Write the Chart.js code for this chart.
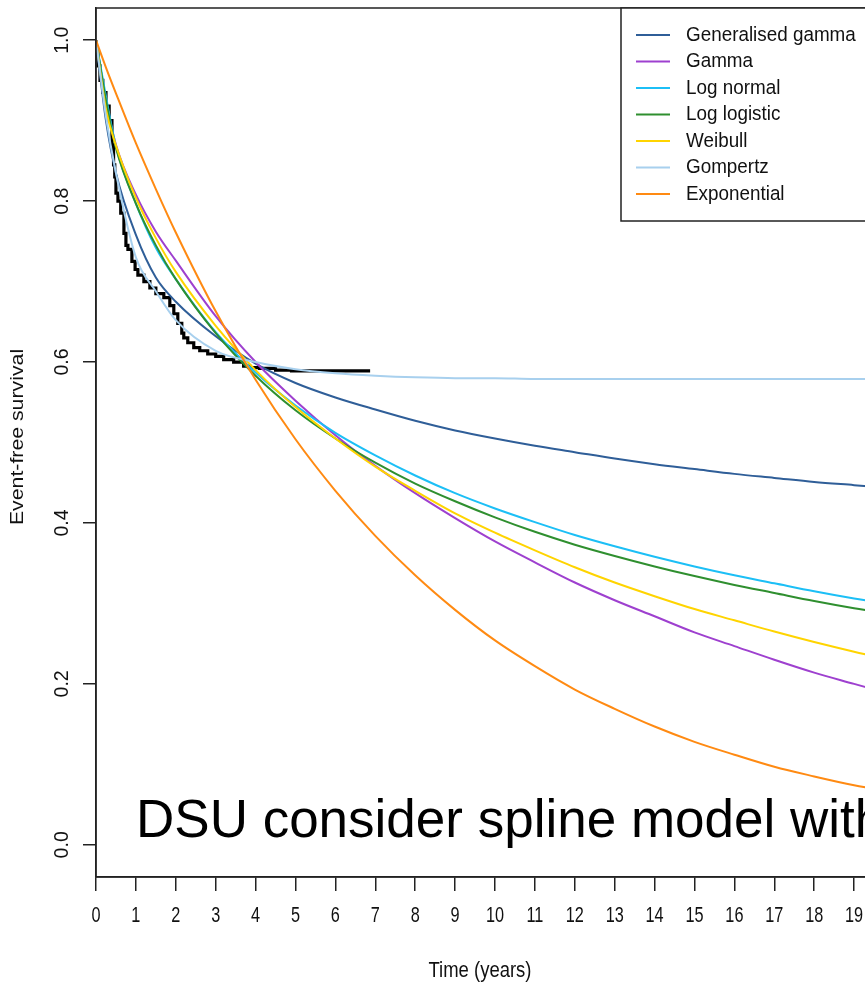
<!DOCTYPE html>
<html>
<head>
<meta charset="utf-8">
<script src="https://cdn.jsdelivr.net/npm/chart.js@4.4.1/dist/chart.umd.min.js"></script>
<style>
  html, body { margin: 0; padding: 0; background: #fff; overflow: hidden; }
  #wrap { width: 920px; height: 986px; }
</style>
</head>
<body>
<div id="wrap"><canvas id="survChart" width="920" height="986"></canvas></div>
<script>
// time grid (years) shared by the fitted curves
const years = [0, 0.25, 0.5, 1, 1.5, 2, 3, 4, 5, 6, 7, 8, 9, 10, 11, 12, 13, 14, 15, 16, 17, 18, 19, 20];

// fitted survival curves
const genGamma    = [1.0, 0.90, 0.835, 0.758, 0.705, 0.675, 0.632, 0.598, 0.574, 0.556, 0.541, 0.527, 0.515, 0.505, 0.496, 0.488, 0.480, 0.473, 0.467, 0.461, 0.456, 0.451, 0.447, 0.443];
const gammaFit    = [1.0, 0.925, 0.87, 0.808, 0.762, 0.726, 0.657, 0.600, 0.552, 0.509, 0.471, 0.437, 0.406, 0.377, 0.351, 0.326, 0.304, 0.284, 0.264, 0.247, 0.230, 0.214, 0.200, 0.186];
const logNormal   = [1.0, 0.93, 0.868, 0.797, 0.742, 0.703, 0.637, 0.587, 0.546, 0.512, 0.484, 0.459, 0.437, 0.418, 0.401, 0.385, 0.371, 0.358, 0.346, 0.335, 0.325, 0.315, 0.306, 0.298];
const logLogistic = [1.0, 0.925, 0.866, 0.797, 0.745, 0.703, 0.636, 0.583, 0.540, 0.505, 0.475, 0.449, 0.427, 0.407, 0.389, 0.373, 0.359, 0.346, 0.334, 0.323, 0.313, 0.303, 0.294, 0.286];
const weibull     = [1.0, 0.914, 0.869, 0.804, 0.754, 0.712, 0.645, 0.590, 0.544, 0.505, 0.470, 0.440, 0.412, 0.388, 0.366, 0.345, 0.326, 0.309, 0.293, 0.279, 0.265, 0.252, 0.240, 0.229];
const gompertz    = [1.0, 0.905, 0.835, 0.730, 0.688, 0.652, 0.614, 0.600, 0.591, 0.586, 0.583, 0.581, 0.580, 0.580, 0.579, 0.579, 0.579, 0.579, 0.579, 0.579, 0.579, 0.579, 0.579, 0.579];
const exponential = [1.0, 0.966, 0.934, 0.872, 0.815, 0.761, 0.663, 0.578, 0.504, 0.440, 0.384, 0.335, 0.292, 0.254, 0.222, 0.193, 0.169, 0.147, 0.128, 0.112, 0.097, 0.085, 0.074, 0.065];

// Kaplan-Meier steps
const kmTime = [0, 0.05, 0.1, 0.17, 0.25, 0.33, 0.4, 0.44, 0.47, 0.5, 0.55, 0.62, 0.7, 0.75, 0.8, 0.9, 0.98, 1.05, 1.2, 1.35, 1.5, 1.7, 1.85, 1.95, 2.05, 2.15, 2.2, 2.3, 2.45, 2.6, 2.8, 3.0, 3.2, 3.45, 3.7, 3.85, 4.1, 4.5, 4.9, 5.6, 6.87];
const kmSurv = [1.0, 0.985, 0.968, 0.95, 0.935, 0.918, 0.9, 0.87, 0.845, 0.83, 0.81, 0.80, 0.785, 0.76, 0.745, 0.74, 0.725, 0.715, 0.708, 0.70, 0.692, 0.685, 0.68, 0.67, 0.66, 0.648, 0.636, 0.63, 0.624, 0.618, 0.614, 0.61, 0.607, 0.603, 0.6, 0.595, 0.593, 0.592, 0.59, 0.589, 0.589];

const xTicks = [0, 1, 2, 3, 4, 5, 6, 7, 8, 9, 10, 11, 12, 13, 14, 15, 16, 17, 18, 19, 20];
const yTicks = [0, 0.2, 0.4, 0.6, 0.8, 1.0];
const yTickLabels = ['0.0', '0.2', '0.4', '0.6', '0.8', '1.0'];

const FONT = '"Liberation Sans", Arial, sans-serif';

const toPoints = (xs, ys) => xs.map((x, i) => ({ x: x, y: ys[i] }));

const fitLine = (label, values, color, order) => ({
  label: label,
  data: toPoints(years, values),
  borderColor: color,
  borderWidth: 2,
  pointRadius: 0,
  fill: false,
  cubicInterpolationMode: 'monotone',
  order: order
});

function drawText(ctx, str, x, y, size, sx, opts) {
  opts = opts || {};
  ctx.save();
  ctx.translate(x, y);
  if (opts.rotate) ctx.rotate(opts.rotate);
  ctx.scale(sx, 1);
  ctx.font = size + 'px ' + FONT;
  ctx.fillStyle = opts.color || '#111';
  ctx.textAlign = opts.align || 'center';
  ctx.textBaseline = opts.baseline || 'middle';
  ctx.fillText(str, 0, 0);
  ctx.restore();
}

// frame, tick labels, titles, legend and slide caption
const decorPlugin = {
  id: 'decor',
  afterDraw(chart) {
    const ctx = chart.ctx;
    const a = chart.chartArea;
    const xs = chart.scales.x;
    const ys = chart.scales.y;

    ctx.save();
    ctx.strokeStyle = '#222';
    ctx.lineWidth = 1.5;
    ctx.strokeRect(a.left, a.top, a.right - a.left, a.bottom - a.top);
    ctx.restore();

    xTicks.forEach(v => drawText(ctx, String(v), xs.getPixelForValue(v), 916, 22, 0.74));
    yTicks.forEach((v, i) => drawText(ctx, yTickLabels[i], 62, ys.getPixelForValue(v), 21, 0.93, { rotate: -Math.PI / 2 }));

    drawText(ctx, 'Time (years)', 480, 971, 22, 0.84);
    drawText(ctx, 'Event-free survival', 18, 437, 19, 1.12, { rotate: -Math.PI / 2 });

    // legend box, top right of the plot
    const lx = 621, ly = a.top, lw = a.right - lx, lh = 213;
    ctx.save();
    ctx.fillStyle = '#fff';
    ctx.fillRect(lx, ly, lw, lh);
    ctx.strokeStyle = '#222';
    ctx.lineWidth = 1.5;
    ctx.strokeRect(lx, ly, lw, lh);
    ctx.restore();
    const items = chart.data.datasets.filter(d => d.label !== 'Kaplan-Meier');
    items.forEach((d, i) => {
      const yy = ly + 27 + i * 26.5;
      ctx.save();
      ctx.strokeStyle = d.borderColor;
      ctx.lineWidth = 2;
      ctx.beginPath();
      ctx.moveTo(636, yy);
      ctx.lineTo(670, yy);
      ctx.stroke();
      ctx.restore();
      drawText(ctx, d.label, 686, yy, 20.5, 0.92, { align: 'left' });
    });

    drawText(ctx, 'DSU consider spline model with', 136, 837, 53, 1, { align: 'left', baseline: 'alphabetic', color: '#000' });
  }
};

new Chart(document.getElementById('survChart'), {
  type: 'line',
  data: {
    datasets: [
      fitLine('Generalised gamma', genGamma, '#2F5E98', 7),
      fitLine('Gamma', gammaFit, '#9E40CF', 6),
      fitLine('Log normal', logNormal, '#1CBFF6', 5),
      fitLine('Log logistic', logLogistic, '#2F8F2F', 4),
      fitLine('Weibull', weibull, '#FFD400', 3),
      fitLine('Gompertz', gompertz, '#A8D0EE', 2),
      fitLine('Exponential', exponential, '#FF8A12', 1),
      {
        label: 'Kaplan-Meier',
        data: toPoints(kmTime, kmSurv),
        borderColor: '#000',
        borderWidth: 3.2,
        pointRadius: 0,
        fill: false,
        stepped: 'after',
        order: 10
      }
    ]
  },
  options: {
    responsive: false,
    animation: false,
    events: [],
    layout: { padding: { top: 8, right: 26, left: 0, bottom: 0 } },
    plugins: { legend: { display: false }, tooltip: { enabled: false } },
    scales: {
      x: {
        type: 'linear',
        min: 0,
        max: 20,
        afterBuildTicks: s => { s.ticks = xTicks.map(v => ({ value: v })); },
        afterFit: s => { s.height = 109; },
        ticks: { display: false },
        grid: { drawOnChartArea: false, drawTicks: true, tickLength: 14, color: '#222', lineWidth: 1.5 },
        border: { display: true, color: '#222', width: 1.5 }
      },
      y: {
        type: 'linear',
        min: -0.04,
        max: 1.04,
        afterBuildTicks: s => { s.ticks = yTicks.map(v => ({ value: v })); },
        afterFit: s => { s.width = 96; },
        ticks: { display: false },
        grid: { drawOnChartArea: false, drawTicks: true, tickLength: 13, color: '#222', lineWidth: 1.5 },
        border: { display: true, color: '#222', width: 1.5 }
      }
    }
  },
  plugins: [decorPlugin]
});
</script>
</body>
</html>
